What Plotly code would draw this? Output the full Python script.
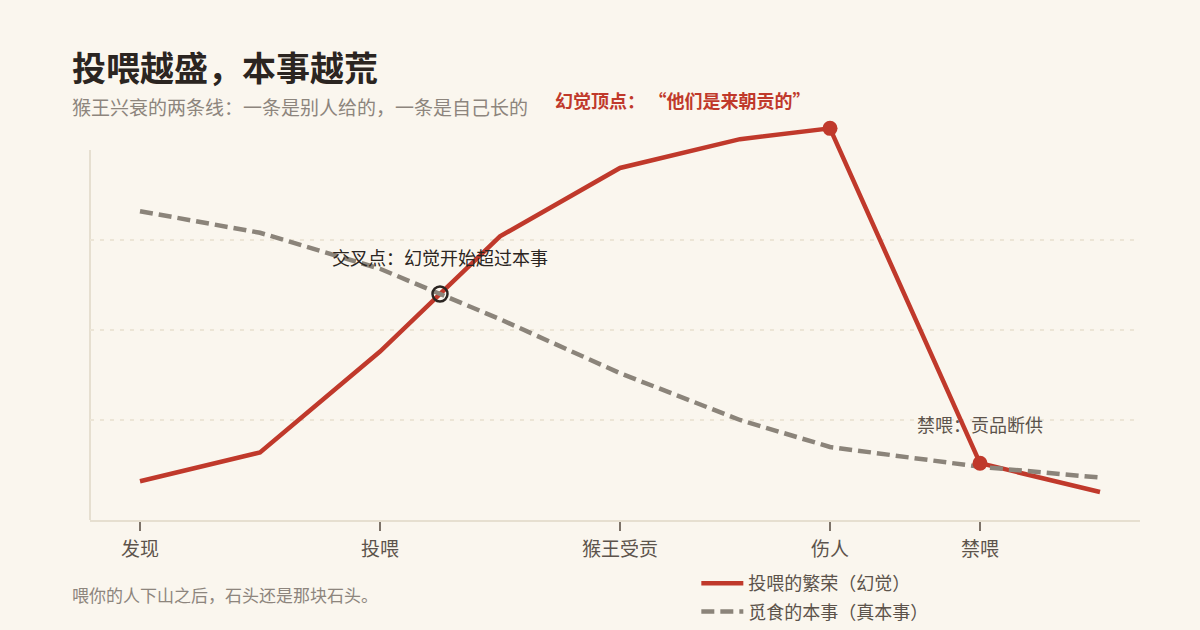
import plotly.graph_objects as go

# ---- data ----
stage_x = [0, 1, 2, 3, 4, 5, 5.75, 7, 8]
feeding_prosperity = [8, 16, 44, 76, 95, 103, 106, 13, 5]      # 投喂的繁荣（幻觉）
foraging_skill = [83, 77, 67, 53, 38, 25, 17.5, 12, 9]           # 觅食的本事（真本事）
tick_positions = [0, 2, 4, 5.75, 7]
tick_labels = ["发现", "投喂", "猴王受贡", "伤人", "禁喂"]
highlight_idx = [6, 7]             # 幻觉顶点, 禁喂
cross_x = [2.5]
cross_y = [60]
grid_vals = [25, 50, 75]

FONT = "Noto Sans CJK SC"
BG = "#faf6ee"
RED = "#c0392b"
GRAY = "#8b847a"
DARK = "#2b2521"
MID = "#5c534b"
LIGHT = "#8d857d"
AXIS = "#e6dfd0"

H = 630
TOP = 110
PAPER_H = H - TOP          # paper spans from y=110 px to the bottom of the figure


def py(pixel_y):
    """paper y fraction for a pixel row (paper spans TOP..H)."""
    return (H - pixel_y) / PAPER_H


def px(pixel_x):
    return (pixel_x - 90) / 1050


fig = go.Figure()

fig.add_trace(go.Scatter(
    x=stage_x, y=feeding_prosperity, mode="lines", name="投喂的繁荣（幻觉）",
    legendgroup="a", line=dict(color=RED, width=4.5), hoverinfo="skip", cliponaxis=False))
fig.add_trace(go.Scatter(
    x=stage_x, y=foraging_skill, mode="lines", name="觅食的本事（真本事）",
    legendgroup="b", line=dict(color=GRAY, width=4.5, dash="13px,6px"), hoverinfo="skip"))

fig.add_trace(go.Scatter(
    x=[stage_x[i] for i in highlight_idx], y=[feeding_prosperity[i] for i in highlight_idx],
    mode="markers", marker=dict(color=RED, size=15), showlegend=False,
    hoverinfo="skip", cliponaxis=False))
fig.add_trace(go.Scatter(
    x=cross_x, y=cross_y, mode="markers",
    marker=dict(color="rgba(0,0,0,0)", size=15, line=dict(color=DARK, width=2.5)),
    showlegend=False, hoverinfo="skip"))

# y axis line (from bottom up to 100)
fig.add_shape(type="line", xref="paper", yref="y", x0=0, x1=0, y0=-2.78, y1=100,
              line=dict(color=AXIS, width=2), layer="below")

ann = [
    dict(text="<b>投喂越盛，本事越荒</b>", x=px(70), y=py(66), font=dict(size=34, color=DARK)),
    dict(text="猴王兴衰的两条线：一条是别人给的，一条是自己长的", x=px(70), y=py(106),
         font=dict(size=19, color=LIGHT)),
    dict(text="喂你的人下山之后，石头还是那块石头。", x=px(70), y=py(594),
         font=dict(size=17, color=LIGHT)),
    dict(text="<b>幻觉顶点：\u2009“他们是来朝贡的”</b>", x=px(553), y=py(100),
         font=dict(size=18, color=RED)),
]
for a in ann:
    fig.add_annotation(xref="paper", yref="paper", xanchor="left", yanchor="middle",
                       showarrow=False, **a)

fig.add_annotation(x=cross_x[0], y=cross_y[0], xref="x", yref="y",
                   text="交叉点：幻觉开始超过本事", showarrow=False,
                   xanchor="center", yanchor="middle", yshift=37,
                   font=dict(size=18, color=DARK))
fig.add_annotation(x=stage_x[7], y=feeding_prosperity[7], xref="x", yref="y",
                   text="禁喂：贡品断供", showarrow=False,
                   xanchor="center", yanchor="middle", yshift=39,
                   font=dict(size=18, color=MID))

fig.update_layout(
    width=1200, height=H,
    margin=dict(l=90, r=60, t=TOP, b=0),
    paper_bgcolor=BG, plot_bgcolor=BG,
    font=dict(family=FONT, color=MID),
    showlegend=True,
    legend=dict(x=px(700) - 0.0035, y=0.0, xanchor="left", yanchor="bottom",
                bgcolor="rgba(0,0,0,0)", font=dict(size=18, color=MID),
                itemwidth=42, tracegroupgap=2),
    xaxis=dict(range=[-0.4167, 8.3333], tickvals=tick_positions, ticktext=tick_labels,
               showgrid=False, zeroline=False, showline=True, linecolor=AXIS, linewidth=2,
               ticks="outside", ticklen=9, tickwidth=1.5, tickcolor="#7d7369",
               ticklabelstandoff=2, automargin=False,
               tickfont=dict(size=19, color=MID), fixedrange=True),
    yaxis=dict(range=[-2.78, 111.1], domain=[(H - 520) / PAPER_H, 1],
               tickvals=grid_vals, showticklabels=False,
               showgrid=True, gridcolor="#ece5d6", gridwidth=1.5, griddash="4px,6px",
               zeroline=False, showline=False, fixedrange=True, automargin=False),
)

fig.write_html("out.html", config={"displayModeBar": False},
               post_script="document.body.style.margin='0';")
